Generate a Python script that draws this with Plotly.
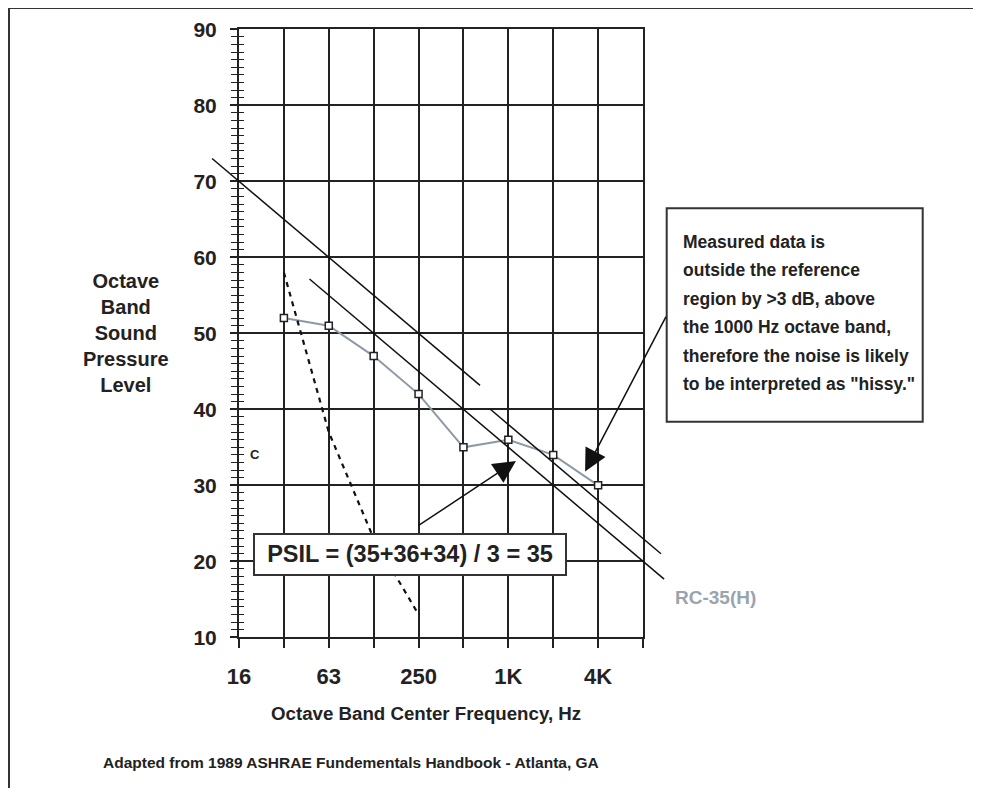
import plotly.graph_objects as go

# ---------------- data ----------------
band_labels = ["16", "31.5", "63", "125", "250", "500", "1K", "2K", "4K", "8K"]
band_index = list(range(len(band_labels)))
x_tick_text = ["16", "", "63", "", "250", "", "1K", "", "4K", ""]
y_tick_vals = [10, 20, 30, 40, 50, 60, 70, 80, 90]

measured_band = [1, 2, 3, 4, 5, 6, 7, 8]
measured_spl = [52, 51, 47, 42, 35, 36, 34, 30]

threshold_band = [1, 2, 3, 4]
threshold_spl = [58, 37, 23, 13]

rumble_limit_band = [-0.6, 5.37]
rumble_limit_spl = [73.0, 43.15]
rc35_band = [1.57, 9.47]
rc35_spl = [57.15, 17.65]
hiss_limit_band = [5.6, 9.4]
hiss_limit_spl = [40.0, 21.0]

psil_values = [35, 36, 34]
psil_arrow_head = (6.17, 33.2)
psil_arrow_tail = (3.96, 24.55)
hiss_arrow_head = (7.71, 31.8)
hiss_arrow_tail = (9.53, 52.4)

info_lines = [
    "Measured data is",
    "outside the reference",
    "region by >3 dB, above",
    "the 1000 Hz octave band,",
    "therefore the noise is likely",
    "to be interpreted as \"hissy.\"",
]

# ---------------- layout helpers ----------------
OFF = 8  # page margin of the html body
W, H = 965, 780
FONT = "Liberation Sans, Arial, Helvetica, sans-serif"
TXT = "#222222"
GRID = "#222222"


def fx(px):
    return (px - OFF) / W


def fy(py):
    return 1 - (py - OFF) / H


X_L, X_R = 239.0, 643.0
Y_T, Y_B = 29.3, 637.3
X2_L, X2_R = 185.0, 720.0
n_oct = len(band_labels) - 1
x2_range = [(X2_L - X_L) / (X_R - X_L) * n_oct, (X2_R - X_L) / (X_R - X_L) * n_oct]
y_dom = [fy(Y_B), fy(Y_T)]

fig = go.Figure()

# dotted threshold curve
fig.add_trace(go.Scatter(
    x=threshold_band, y=threshold_spl, mode="lines",
    line=dict(color="#111111", width=2.2, dash="5px,5px"),
    xaxis="x", yaxis="y2", hoverinfo="skip", showlegend=False))

# measured spectrum
fig.add_trace(go.Scatter(
    x=measured_band, y=measured_spl, mode="lines+markers",
    line=dict(color="#8d9aa5", width=2),
    marker=dict(symbol="square", size=7, color="white",
                line=dict(color="#222222", width=1.5)),
    xaxis="x", yaxis="y", showlegend=False))

# RC reference lines (on a wider, invisible overlay so they can overhang the grid)
for bx, by in [(rumble_limit_band, rumble_limit_spl),
               (rc35_band, rc35_spl),
               (hiss_limit_band, hiss_limit_spl)]:
    fig.add_trace(go.Scatter(
        x=bx, y=by, mode="lines", line=dict(color="#111111", width=1.5),
        xaxis="x2", yaxis="y3", hoverinfo="skip", showlegend=False))

tickfont = dict(family=FONT, size=21, color=TXT, weight="bold")

fig.update_layout(
    template="none",
    width=W, height=H, autosize=False,
    margin=dict(l=0, r=0, t=0, b=0, pad=0),
    paper_bgcolor="white", plot_bgcolor="rgba(0,0,0,0)",
    showlegend=False,
    xaxis=dict(
        domain=[fx(X_L), fx(X_R)], range=[0, n_oct], anchor="y",
        tickmode="array", tickvals=band_index, ticktext=x_tick_text,
        ticks="outside", ticklen=9, tickwidth=2, tickcolor=GRID,
        tickfont=dict(family=FONT, size=22, color=TXT, weight="bold"),
        ticklabelstandoff=9,
        showgrid=True, gridcolor=GRID, gridwidth=1.6,
        showline=True, mirror=True, linecolor=GRID, linewidth=2,
        zeroline=False, automargin=False, fixedrange=True),
    yaxis=dict(
        domain=y_dom, range=[10, 90], anchor="x",
        tickmode="array", tickvals=y_tick_vals,
        ticks="outside", ticklen=7, tickwidth=2, tickcolor=GRID,
        minor=dict(dtick=1, ticks="outside", ticklen=6, tickwidth=1.4, tickcolor=GRID, showgrid=False),
        tickfont=tickfont, ticklabelstandoff=9,
        showgrid=True, gridcolor=GRID, gridwidth=1.6,
        showline=True, mirror=True, linecolor=GRID, linewidth=2,
        zeroline=False, automargin=False, fixedrange=True),
    yaxis2=dict(
        overlaying="y", range=[10, 90], anchor="x", side="left",
        tickmode="array", tickvals=y_tick_vals,
        ticks="inside", ticklen=8, tickwidth=2, tickcolor=GRID,
        minor=dict(dtick=1, ticks="inside", ticklen=5, tickwidth=1.4, tickcolor=GRID, showgrid=False),
        showticklabels=False, showgrid=False, showline=False,
        zeroline=False, automargin=False, fixedrange=True),
    xaxis2=dict(
        domain=[fx(X2_L), fx(X2_R)], range=x2_range, anchor="y3",
        visible=False, showgrid=False, zeroline=False, fixedrange=True),
    yaxis3=dict(
        domain=y_dom, range=[10, 90], anchor="x2",
        visible=False, showgrid=False, zeroline=False, fixedrange=True),
)

ann = []

# axis titles and notes
ann.append(dict(xref="paper", yref="paper", x=fx(126), y=fy(333),
                text="Octave<br>Band<br>Sound<br>Pressure<br>Level",
                showarrow=False, xanchor="center", yanchor="middle", align="center",
                font=dict(family=FONT, size=20, color=TXT, weight="bold")))
ann.append(dict(xref="paper", yref="paper", x=fx(426), y=fy(713),
                text="Octave Band Center Frequency, Hz",
                showarrow=False, xanchor="center", yanchor="middle",
                font=dict(family=FONT, size=18.7, color=TXT, weight="bold")))
ann.append(dict(xref="paper", yref="paper", x=fx(351), y=fy(762),
                text="Adapted from 1989 ASHRAE Fundementals Handbook - Atlanta, GA",
                showarrow=False, xanchor="center", yanchor="middle",
                font=dict(family=FONT, size=15.5, color=TXT, weight="bold")))
ann.append(dict(xref="paper", yref="paper", x=fx(255), y=fy(454), text="C",
                showarrow=False, xanchor="center", yanchor="middle",
                font=dict(family=FONT, size=13, color=TXT, weight="bold")))
ann.append(dict(xref="paper", yref="paper", x=fx(673), y=fy(597), text="RC-35(H)",
                showarrow=False, xanchor="left", yanchor="middle",
                font=dict(family=FONT, size=19, color="#98a4ae", weight="bold")))

# PSIL box
psil_mean = round(sum(psil_values) / len(psil_values))
psil_text = "PSIL = (" + "+".join(str(v) for v in psil_values) + ") / %d = %d" % (len(psil_values), psil_mean)
ann.append(dict(xref="paper", yref="paper", x=fx(409.7), y=fy(554), text=psil_text,
                showarrow=False, xanchor="center", yanchor="middle",
                width=310, height=38.6, borderwidth=2, borderpad=0,
                bordercolor="#333333", bgcolor="white",
                font=dict(family=FONT, size=23.5, color=TXT, weight="bold")))

# arrows
for head, tail in [(psil_arrow_head, psil_arrow_tail), (hiss_arrow_head, hiss_arrow_tail)]:
    ann.append(dict(xref="x", yref="y", axref="x", ayref="y",
                    x=head[0], y=head[1], ax=tail[0], ay=tail[1], text="",
                    showarrow=True, arrowhead=2, arrowsize=3, arrowwidth=1.5,
                    arrowcolor="#111111"))

# info box text lines
for i, line in enumerate(info_lines):
    ann.append(dict(xref="paper", yref="paper", x=fx(680.7), y=fy(241.7 + i * 28.5),
                    text=line, showarrow=False, xanchor="left", yanchor="middle",
                    font=dict(family=FONT, size=17.5, color=TXT, weight="bold")))

fig.update_layout(annotations=ann)

shapes = [
    dict(type="line", xref="paper", yref="paper", x0=fx(8), x1=1.0, y0=1.0, y1=1.0,
         line=dict(color="#333333", width=2)),
    dict(type="line", xref="paper", yref="paper", x0=fx(9), x1=fx(9), y0=1.0, y1=0.0,
         line=dict(color="#333333", width=2)),
    dict(type="rect", xref="paper", yref="paper", x0=fx(666.7), x1=fx(922.7), y0=fy(421.7), y1=fy(208.3),
         line=dict(color="#333333", width=2), fillcolor="white", layer="above"),
]
fig.update_layout(shapes=shapes)

fig.write_html("out.html")
